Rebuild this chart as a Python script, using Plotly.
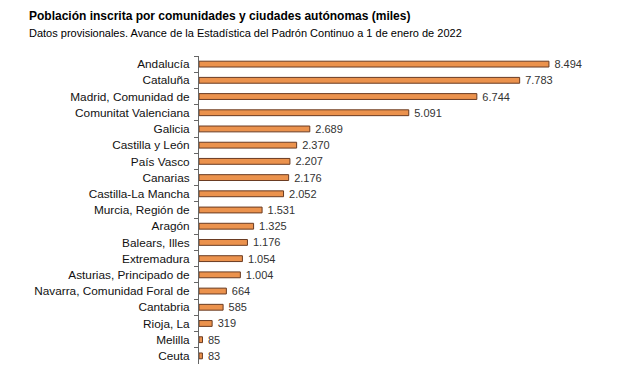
import plotly.graph_objects as go

categorias = ["Andalucía", "Cataluña", "Madrid, Comunidad de", "Comunitat Valenciana",
              "Galicia", "Castilla y León", "País Vasco", "Canarias", "Castilla-La Mancha",
              "Murcia, Región de", "Aragón", "Balears, Illes", "Extremadura",
              "Asturias, Principado de", "Navarra, Comunidad Foral de", "Cantabria",
              "Rioja, La", "Melilla", "Ceuta"]
poblacion = [8494, 7783, 6744, 5091, 2689, 2370, 2207, 2176, 2052, 1531, 1325, 1176,
             1054, 1004, 664, 585, 319, 85, 83]

# page body has an 8px margin; positions below are in figure pixels
OFF = 8
W, H = 621, 385
L, T = 199 - OFF, 56 - OFF
RIGHT, BOTTOM = 611 - OFF, 364 - OFF
R, B = W - RIGHT, H - BOTTOM
pw, ph = RIGHT - L, BOTTOM - T

def px_x(p):
    return (p - OFF - L) / pw

def px_y(p):
    return (BOTTOM - (p - OFF)) / ph

fig = go.Figure(go.Bar(
    x=poblacion, y=categorias, orientation="h",
    marker=dict(color="#EB924D", line=dict(color="#6A3B22", width=1)),
    width=0.36,
    texttemplate="\u2002%{x:,}", textposition="outside", constraintext="none",
    textfont=dict(family="Liberation Sans, Arial", size=11, color="#333333"),
    cliponaxis=False,
))

fig.update_layout(
    width=W, height=H,
    margin=dict(l=L, r=R, t=T, b=B, autoexpand=False),
    plot_bgcolor="white", paper_bgcolor="white",
    separators=",.",
    showlegend=False,
    font=dict(family="Liberation Sans, Arial", size=11, color="#111111"),
    xaxis=dict(range=[0, 10000], visible=False, fixedrange=True, automargin=False),
    yaxis=dict(autorange="reversed", showline=True, linecolor="#666666", linewidth=1,
               ticks="outside", tickson="boundaries", ticklen=4, tickcolor="#666666",
               showgrid=False, ticklabelstandoff=6, automargin=False,
               tickfont=dict(family="Liberation Sans, Arial", size=11.8, color="#111111")),
    annotations=[
        dict(text="<b>Población inscrita por comunidades y ciudades autónomas (miles)</b>",
             x=px_x(27), y=px_y(16), xref="paper", yref="paper", xanchor="left",
             yanchor="middle", showarrow=False,
             font=dict(family="Liberation Sans, Arial", size=12, color="#000000")),
        dict(text="Datos provisionales. Avance de la Estadística del Padrón Continuo a 1 de enero de 2022",
             x=px_x(27), y=px_y(33), xref="paper", yref="paper", xanchor="left",
             yanchor="middle", showarrow=False,
             font=dict(family="Liberation Sans, Arial", size=11, color="#000000")),
    ],
)

fig.write_html("out.html")
